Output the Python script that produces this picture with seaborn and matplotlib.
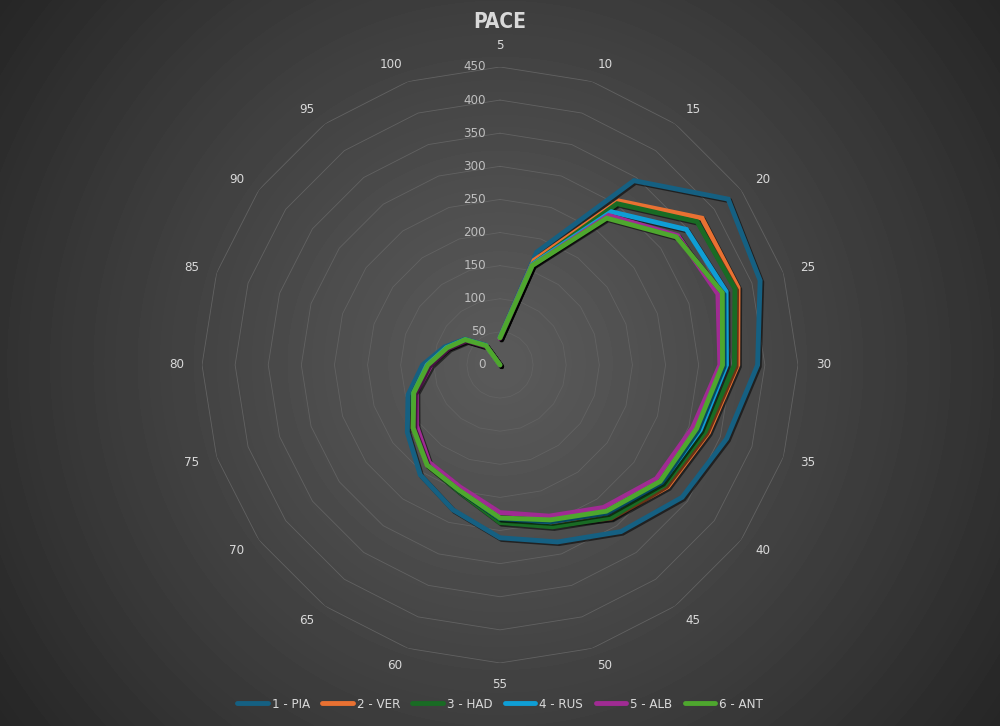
import numpy as np
import pandas as pd
import matplotlib
matplotlib.use('Agg')
import matplotlib.pyplot as plt
import matplotlib.patheffects as pe
import matplotlib.transforms as mtransforms
from matplotlib.lines import Line2D
import seaborn as sns

# categories round the radar (clockwise from the top) and radial scale
categories = [5, 10, 15, 20, 25, 30, 35, 40, 45, 50, 55, 60, 65, 70, 75, 80, 85, 90, 95, 100]
r_ticks = [0, 50, 100, 150, 200, 250, 300, 350, 400, 450]

# values
pia = [42, 179, 344, 426, 413, 389, 360, 340, 311, 281, 261, 230, 205, 173, 146, 117, 88, 66, 37, 0]
ver = [41, 166, 306, 377, 378, 359, 331, 313, 286, 253, 236, 200, 187, 162, 137, 110, 84, 63, 35, 0]
had = [41, 160, 301, 368, 373, 354, 326, 308, 285, 257, 238, 201, 187, 162, 138, 110, 85, 65, 36, 0]
rus = [41, 160, 286, 348, 359, 342, 318, 302, 276, 249, 232, 199, 186, 161, 137, 110, 85, 65, 36, 0]
alb = [40, 158, 279, 332, 346, 332, 306, 292, 266, 240, 223, 194, 182, 156, 133, 104, 81, 62, 34, 0]
ant = [41, 158, 274, 329, 353, 336, 312, 299, 273, 246, 231, 199, 187, 162, 137, 109, 84, 65, 36, 0]

drivers = ['1 - PIA', '2 - VER', '3 - HAD', '4 - RUS', '5 - ALB', '6 - ANT']
series = [pia, ver, had, rus, alb, ant]
colors = ['#156082', '#E97132', '#196B24', '#0F9ED5', '#A02B93', '#4EA72E']

sns.set_theme(style='white')
plt.rcParams['font.family'] = ['DejaVu Sans']
plt.rcParams['font.stretch'] = 'condensed'

n = len(categories)
theta = np.arange(n) * 2 * np.pi / n

rows = []
for name, vals in zip(drivers, series):
    for t, v in zip(theta, vals):
        rows.append({'theta': t, 'value': v, 'driver': name})
df = pd.DataFrame(rows)

fig = plt.figure(figsize=(10, 7.26), dpi=100)

# dark radial gradient background
bg = fig.add_axes([0, 0, 1, 1], zorder=0)
yy, xx = np.mgrid[0:726, 0:1000]
dist = np.hypot(xx - 500, yy - 363) / 617
shade = (90 - 52 * dist ** 1.15) / 255
bg.imshow(shade, cmap='gray', vmin=0, vmax=1, aspect='auto', interpolation='bilinear')
bg.axis('off')

ax = fig.add_axes([0.202, 0.0868, 0.596, 0.821], projection='polar', zorder=1)
ax.set_facecolor('none')
ax.set_theta_zero_location('N')
ax.set_theta_direction(-1)
ax.grid(False)
ax.spines['polar'].set_visible(False)

# polygon gridlines like excel
ring_theta = np.append(theta, theta[0])
for r in r_ticks[1:]:
    ax.plot(ring_theta, [r] * len(ring_theta), color='#626262', lw=0.6, zorder=1)

sns.lineplot(data=df, x='theta', y='value', hue='driver', palette=colors,
             linewidth=3.5, ax=ax, legend=False, errorbar=None, zorder=3)
for line in ax.lines[-len(drivers):]:
    line.set_solid_joinstyle('miter')
    line.set_path_effects([pe.SimpleLineShadow(offset=(1.2, -1.2), shadow_color='black', alpha=0.55),
                           pe.Normal()])

ax.set_ylim(0, 450)
ax.set_xticks([])
ax.set_yticks([])
ax.set_xlabel('')
ax.set_ylabel('')

# radial value labels on the top spoke
offset = mtransforms.offset_copy(ax.transData, fig=fig, x=-10, y=0, units='points')
for r in r_ticks:
    ax.text(0, r, str(r), transform=offset, ha='right', va='center',
            color='#bfbfbf', fontsize=9.5)

# category labels outside the last ring
for t, c in zip(theta, categories):
    s = np.sin(t)
    if s > 0.1:
        ha, rr = 'left', 477
    elif s < -0.1:
        ha, rr = 'right', 477
    else:
        ha, rr = 'center', 482
    ax.text(t, rr, str(c), ha=ha, va='center', color='#d9d9d9',
            fontsize=9.5, clip_on=False)

fig.text(0.5, 1 - 22 / 726, 'PACE', ha='center', va='center', color='#d9d9d9',
         fontsize=15, fontweight='bold')

handles = [Line2D([0], [0], color=c, lw=3.5, solid_capstyle='round') for c in colors]
leg = fig.legend(handles, drivers, loc='center', bbox_to_anchor=(0.5, 1 - 704 / 726),
                 ncol=6, frameon=False, fontsize=9.5, handlelength=2.3, handletextpad=0.3,
                 columnspacing=0.95)
for txt in leg.get_texts():
    txt.set_color('#d9d9d9')

fig.savefig('out.png', dpi=100)
